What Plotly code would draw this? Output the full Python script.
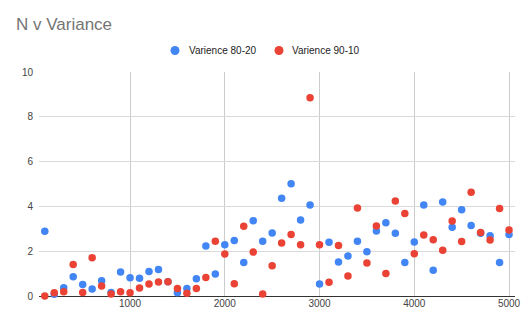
import plotly.graph_objects as go

n_values = [100, 200, 300, 400, 500, 600, 700, 800, 900, 1000,
            1100, 1200, 1300, 1400, 1500, 1600, 1700, 1800, 1900, 2000,
            2100, 2200, 2300, 2400, 2500, 2600, 2700, 2800, 2900, 3000,
            3100, 3200, 3300, 3400, 3500, 3600, 3700, 3800, 3900, 4000,
            4100, 4200, 4300, 4400, 4500, 4600, 4700, 4800, 4900, 5000]

var_80_20 = [2.89, 0.08, 0.37, 0.86, 0.51, 0.31, 0.68, 0.16, 1.07, 0.82,
             0.79, 1.09, 1.18, 0.64, 0.15, 0.34, 0.77, 2.23, 0.98, 2.29,
             2.48, 1.49, 3.36, 2.44, 2.81, 4.36, 5.01, 3.39, 4.06, 0.54,
             2.40, 1.52, 1.79, 2.44, 1.98, 2.90, 3.27, 2.80, 1.50, 2.41,
             4.06, 1.15, 4.20, 3.07, 3.85, 3.15, 2.80, 2.69, 1.49, 2.74]

var_90_10 = [0.00, 0.15, 0.19, 1.41, 0.16, 1.71, 0.45, 0.09, 0.19, 0.15,
             0.36, 0.54, 0.62, 0.64, 0.34, 0.12, 0.34, 0.83, 2.44, 1.88,
             0.55, 3.11, 1.96, 0.09, 1.35, 2.37, 2.75, 2.29, 8.85, 2.29,
             0.61, 2.25, 0.89, 3.93, 1.47, 3.13, 1.01, 4.24, 3.68, 1.89,
             2.72, 2.51, 2.04, 3.35, 2.43, 4.63, 2.84, 2.50, 3.91, 2.95]

series_names = ["Varience 80-20", "Varience 90-10"]
series_colors = ["#4285F4", "#EA4335"]

x_ticks = [1000, 2000, 3000, 4000, 5000]
y_ticks = [0, 2, 4, 6, 8, 10]

W, H = 532, 329
ML, MR, MT, MB = 39, 17, 72, 33
PW, PH = W - ML - MR, H - MT - MB

def px_to_paper_x(px):
    return (px - ML) / PW

def px_to_paper_y(py):
    return (H - MB - py) / PH

fig = go.Figure()
for name, vals, col in zip(series_names, [var_80_20, var_90_10], series_colors):
    fig.add_trace(go.Scatter(
        x=n_values, y=vals, mode="markers", name=name,
        marker=dict(color=col, size=7.5, line=dict(width=0)),
        cliponaxis=False, showlegend=False,
    ))

# Legend (drawn manually to match spacing)
legend_dot_x = [175, 279]
legend_text_x = [187, 290]
legend_y = 50.5
shapes = []
annotations = []
for name, col, dx, tx in zip(series_names, series_colors, legend_dot_x, legend_text_x):
    shapes.append(dict(type="circle", xref="paper", yref="paper",
                       x0=px_to_paper_x(dx - 4.5), x1=px_to_paper_x(dx + 4.5),
                       y0=px_to_paper_y(legend_y + 4.5), y1=px_to_paper_y(legend_y - 4.5),
                       fillcolor=col, line=dict(width=0)))
    annotations.append(dict(text=name, xref="paper", yref="paper",
                            x=px_to_paper_x(tx), y=px_to_paper_y(legend_y),
                            xanchor="left", yanchor="middle", showarrow=False,
                            font=dict(size=10, color="#222222")))

fig.update_layout(
    width=W, height=H,
    margin=dict(l=ML, r=MR, t=MT, b=MB),
    paper_bgcolor="white", plot_bgcolor="white",
    font=dict(family="Arial, Liberation Sans, sans-serif", size=10, color="#444444"),
    title=dict(text="N v Variance", x=16/W, xanchor="left", xref="container",
               y=1 - 24.5/H, yanchor="middle", yref="container",
               font=dict(size=17, color="#757575", family="Arial, Liberation Sans, sans-serif")),
    shapes=shapes,
    annotations=annotations,
    xaxis=dict(range=[39, 5063], tickvals=x_ticks, ticktext=[str(v) for v in x_ticks],
               showgrid=True, gridcolor="#cccccc", gridwidth=1,
               zeroline=False, showline=False, ticks="",
               tickfont=dict(size=10, color="#444444")),
    yaxis=dict(range=[0, 10], tickvals=y_ticks, ticktext=[str(v) for v in y_ticks],
               showgrid=True, gridcolor="#d9d9d9", gridwidth=1,
               zeroline=True, zerolinecolor="#333333", zerolinewidth=1,
               showline=False, ticks="", ticklabelstandoff=5,
               tickfont=dict(size=10, color="#444444")),
)

fig.write_html("out.html")
